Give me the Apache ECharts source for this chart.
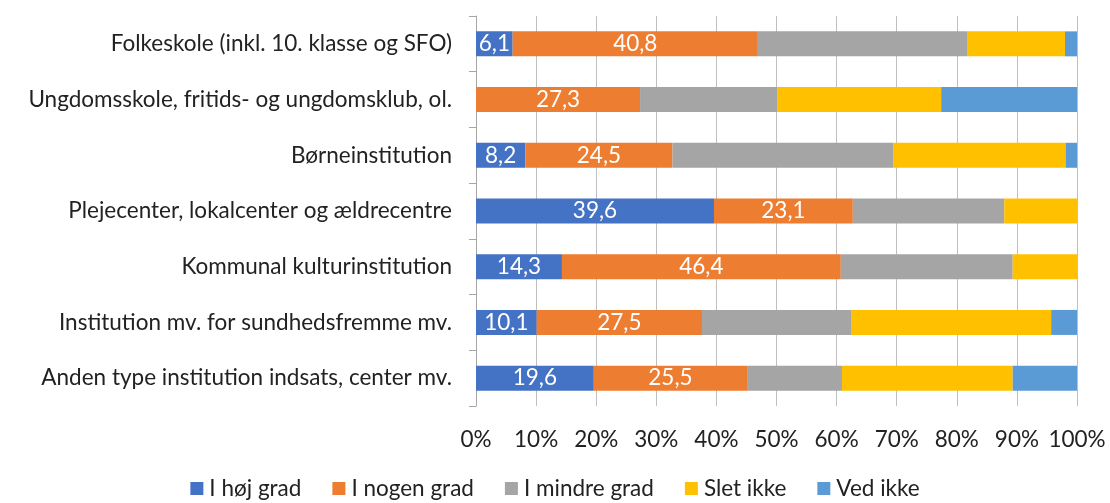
<!DOCTYPE html>
<html>
<head>
<meta charset="utf-8">
<script src="https://cdn.jsdelivr.net/npm/echarts@6/dist/echarts.min.js"></script>
<style>
  html, body { margin: 0; padding: 0; background: #fff; }
  #chart { width: 1110px; height: 503px; }
</style>
</head>
<body>
<div id="chart"></div>
<script>
// Institution types, listed top to bottom
const categories = [
  'Folkeskole (inkl. 10. klasse og SFO)',
  'Ungdomsskole, fritids- og ungdomsklub, ol.',
  'Børneinstitution',
  'Plejecenter, lokalcenter og ældrecentre',
  'Kommunal kulturinstitution',
  'Institution mv. for sundhedsfremme mv.',
  'Anden type institution indsats, center mv.'
];

// Share of answers (%) per response category
const iHojGrad    = [6.1, 0,    8.2,  39.6, 14.3, 10.1, 19.6];
const iNogenGrad  = [40.8, 27.3, 24.5, 23.1, 46.4, 27.5, 25.5];
const iMindreGrad = [34.8, 22.8, 36.7, 25.2, 28.6, 24.8, 15.8];
const sletIkke    = [16.3, 27.3, 28.7, 12.1, 10.7, 33.3, 28.4];
const vedIkke     = [2.0,  22.6, 1.9,  0,    0,    4.3,  10.7];

const seriesNames = ['I høj grad', 'I nogen grad', 'I mindre grad', 'Slet ikke', 'Ved ikke'];
const seriesColors = ['#4472C4', '#ED7D31', '#A5A5A5', '#FFC000', '#5B9BD5'];
const seriesValues = [iHojGrad, iNogenGrad, iMindreGrad, sletIkke, vedIkke];
const labelledSeries = [true, true, false, false, false];

const xTicks = [0, 10, 20, 30, 40, 50, 60, 70, 80, 90, 100];

const FONT = 'Lato, "Open Sans", sans-serif';
const FS = 22.5;

const chart = echarts.init(document.getElementById('chart'), null, { renderer: 'canvas' });

const series = seriesNames.map((name, i) => ({
  name,
  type: 'bar',
  stack: 'total',
  barWidth: 25,
  itemStyle: { color: seriesColors[i] },
  label: {
    show: labelledSeries[i],
    position: 'inside',
    color: '#fff',
    fontFamily: FONT,
    fontSize: FS,
    formatter: p => (p.value ? p.value.toFixed(1).replace('.', ',') : '')
  },
  emphasis: { disabled: true },
  data: seriesValues[i]
}));

chart.setOption({
  animation: false,
  textStyle: { fontFamily: FONT },
  grid: { left: 476, right: 33, top: 16, bottom: 97, containLabel: false },
  xAxis: {
    type: 'value',
    min: xTicks[0],
    max: xTicks[xTicks.length - 1],
    interval: 10,
    axisLine: { show: false },
    axisTick: { show: false },
    splitLine: { show: true, lineStyle: { color: '#bfbfbf', width: 1 } },
    axisLabel: {
      color: '#222',
      fontSize: FS,
      fontFamily: FONT,
      margin: 22,
      formatter: v => v + '%'
    }
  },
  yAxis: {
    type: 'category',
    inverse: true,
    data: categories,
    axisLine: { show: true, lineStyle: { color: '#a6a6a6', width: 1 } },
    axisTick: { show: true, length: 7, lineStyle: { color: '#a6a6a6' } },
    axisLabel: { color: '#222', fontSize: FS, fontFamily: FONT, margin: 24 }
  },
  legend: {
    top: 477,
    left: 'center',
    padding: 0,
    icon: 'rect',
    itemWidth: 13,
    itemHeight: 13,
    itemGap: 31,
    textStyle: { color: '#222', fontSize: FS, fontFamily: FONT, padding: [0, 0, 0, 1] },
    data: seriesNames
  },
  series
});
</script>
</body>
</html>
